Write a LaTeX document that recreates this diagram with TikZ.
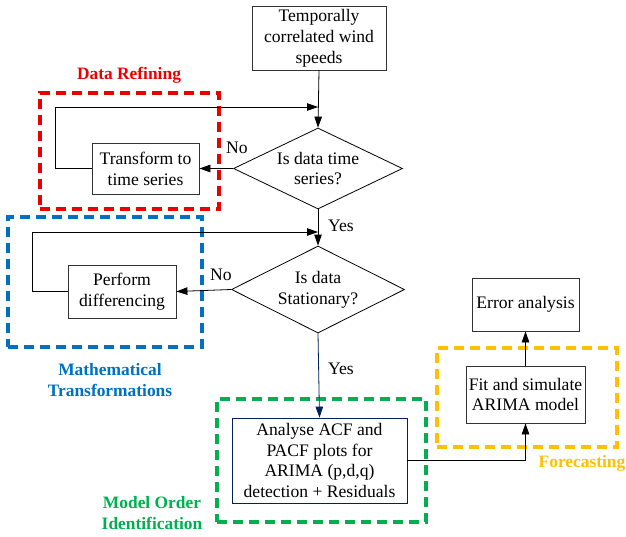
\documentclass[tikz,border=0pt]{standalone}
\usepackage{fontspec}
\setmainfont{Liberation Serif}
\usetikzlibrary{shapes.geometric,arrows.meta}
\definecolor{mred}{RGB}{235,0,0}
\definecolor{mblue}{RGB}{0,112,192}
\definecolor{mgreen}{RGB}{0,176,80}
\definecolor{myellow}{RGB}{255,192,0}
\definecolor{mnavy}{RGB}{0,32,96}
\tikzset{
  every node/.style={font=\fontsize{17.6}{20.8}\selectfont},
  box/.style={draw=black!80, line width=0.8pt, align=center, inner sep=0pt},
  dec/.style={draw=black, line width=0.8pt, shape=diamond, inner sep=0pt},
  dtext/.style={align=center, inner sep=0pt},
  arr/.style={draw=black, line width=0.8pt, -{Triangle[length=11pt,width=7.5pt]}},
  grp/.style={draw=#1, line width=3.3pt, dash pattern=on 10pt off 6pt, inner sep=0pt},
  lbl/.style={font=\fontsize{17.4}{20.5}\selectfont\bfseries, align=center, text=#1},
}
\begin{document}
\begin{tikzpicture}[x=1pt,y=-1pt]
\useasboundingbox (0,0) rectangle (626,536);
% group frames
\node[grp=mred, minimum width=179pt, minimum height=116pt] (g1) at (129.5,151) {};
\node[grp=mblue, minimum width=194pt, minimum height=130pt] (g2) at (105,282) {};
\node[grp=mgreen, minimum width=209pt, minimum height=123pt] (g3) at (321.5,460.5) {};
\node[grp=myellow, minimum width=180pt, minimum height=99pt] (g4) at (527,397.5) {};
% group labels
\node[lbl=mred] (l1) at (129,75) {Data Refining};
\node[lbl=mblue] (l2) at (110,380) {Mathematical\\Transformations};
\node[lbl=mgreen] (l3) at (152,513) {Model Order\\Identification};
\node[lbl=myellow] (l4) at (582,463) {Forecasting};
% nodes
\node[box, minimum width=134pt, minimum height=64pt] (top) at (319,38) {Temporally\\correlated wind\\speeds};
\node[dec, minimum width=169pt, minimum height=81pt] (d1) at (318,168.5) {};
\node[dtext] (d1t) at (d1.center) {Is data time\\series?};
\node[box, minimum width=107pt, minimum height=51pt] (tr) at (145.5,168.5) {Transform to\\time series};
\node[dec, minimum width=173pt, minimum height=87pt] (d2) at (318,289.5) {};
\node[dtext] (d2t) at (d2.center) {Is data\\Stationary?};
\node[box, minimum width=108pt, minimum height=53pt] (pd) at (122,291.5) {Perform\\differencing};
\node[box, draw=mnavy, minimum width=175pt, minimum height=85pt] (an) at (319.5,460.5) {Analyse ACF and\\PACF plots for\\ARIMA (p,d,q)\\detection + Residuals};
\node[box, minimum width=119pt, minimum height=57pt] (fit) at (525.5,394.5) {Fit and simulate\\ARIMA model};
\node[box, minimum width=107pt, minimum height=53pt] (err) at (525.5,304.5) {Error analysis};
\coordinate (j1) at (318,107);
\coordinate (j2) at (318,232);
% connectors
\draw[arr] (top.south) -- (d1.north);
\draw[arr] (d1.west) -- (tr.east);
\draw[arr] (tr.west) -- ++(-36,0) |- (j1);
\draw[arr] (d1.south) -- (d2.north);
\draw[arr] (d2.west) -- (pd.east);
\draw[arr] (pd.west) -- ++(-35,0) |- (j2);
\draw[arr, draw=mnavy] (d2.south) -- (an.north);
\draw[arr] (an.east) -| (fit.south);
\draw[arr] (fit.north) -- (err.south);
% edge labels
\node (no1) at (237,148) {No};
\node (no2) at (221,275) {No};
\node (yes1) at (341,226) {Yes};
\node (yes2) at (341,369) {Yes};
\end{tikzpicture}
\end{document}
